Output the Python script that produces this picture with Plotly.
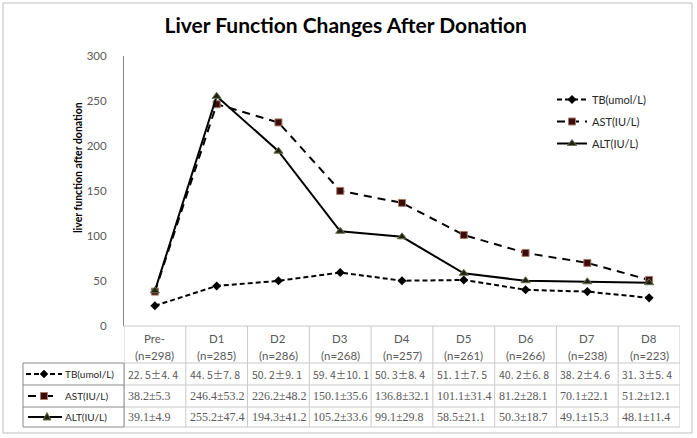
import plotly.graph_objects as go

categories = ["Pre-", "D1", "D2", "D3", "D4", "D5", "D6", "D7", "D8"]
n_labels = ["(n=298)", "(n=285)", "(n=286)", "(n=268)", "(n=257)", "(n=261)", "(n=266)", "(n=238)", "(n=223)"]
tb = [22.5, 44.5, 50.2, 59.4, 50.3, 51.1, 40.2, 38.2, 31.3]
ast = [38.2, 246.4, 226.2, 150.1, 136.8, 101.1, 81.2, 70.1, 51.2]
alt = [39.1, 255.2, 194.3, 105.2, 99.1, 58.5, 50.3, 49.1, 48.1]
tb_txt = ["22. 5±4. 4", "44. 5±7. 8", "50. 2±9. 1", "59. 4±10. 1", "50. 3±8. 4",
          "51. 1±7. 5", "40. 2±6. 8", "38. 2±4. 6", "31. 3±5. 4"]
ast_txt = ["38.2±5.3", "246.4±53.2", "226.2±48.2", "150.1±35.6", "136.8±32.1",
           "101.1±31.4", "81.2±28.1", "70.1±22.1", "51.2±12.1"]
alt_txt = ["39.1±4.9", "255.2±47.4", "194.3±41.2", "105.2±33.6", "99.1±29.8",
           "58.5±21.1", "50.3±18.7", "49.1±15.3", "48.1±11.4"]
series_names = ["TB(umol/L)", "AST(IU/L)", "ALT(IU/L)"]
y_ticks = [0, 50, 100, 150, 200, 250, 300]

W, H = 697, 438
L, R, T, B = 124, 17, 56, 112
PW, PH = W - L - R, H - T - B


def px(x):
    return (x - L) / PW


def py(y):
    return (H - B - y) / PH


xi = list(range(len(categories)))
fig = go.Figure()
fig.add_trace(go.Scatter(x=xi, y=tb, name=series_names[0], mode="lines+markers", legendgroup="tb",
                         line=dict(color="#000000", width=2, dash="5px,3px"),
                         marker=dict(symbol="diamond", size=7, color="#000000")))
fig.add_trace(go.Scatter(x=xi, y=ast, name=series_names[1], mode="lines+markers", legendgroup="ast",
                         line=dict(color="#000000", width=2, dash="8px,6px"),
                         marker=dict(symbol="square", size=7, color="#3a0c0c",
                                     line=dict(color="#a87a66", width=1))))
fig.add_trace(go.Scatter(x=xi, y=alt, name=series_names[2], mode="lines+markers", legendgroup="alt",
                         line=dict(color="#000000", width=2),
                         marker=dict(symbol="triangle-up", size=8, color="#1e2410",
                                     line=dict(color="#6d7050", width=1))))

shapes = []
grid = "#c9c9c9"
# outer border
shapes.append(dict(type="rect", xref="paper", yref="paper", x0=px(3), x1=px(692),
                   y0=py(433), y1=py(3), line=dict(color="#bdbdbd", width=1)))
# table horizontal lines
for yy in [326, 363, 385, 407, 427]:
    shapes.append(dict(type="line", xref="x", yref="paper", x0=-0.5, x1=8.5,
                       y0=py(yy), y1=py(yy), line=dict(color=grid, width=1)))
# table vertical lines
for k in range(len(categories) + 1):
    shapes.append(dict(type="line", xref="x", yref="paper", x0=k - 0.5, x1=k - 0.5,
                       y0=py(326), y1=py(427), line=dict(color=grid, width=1)))
# key column box
kc = "#8a8a8a"
shapes.append(dict(type="rect", xref="paper", yref="paper", x0=px(23), x1=px(124),
                   y0=py(427), y1=py(363), line=dict(color=kc, width=1)))
for yy in [385, 407]:
    shapes.append(dict(type="line", xref="paper", yref="paper", x0=px(23), x1=px(124),
                       y0=py(yy), y1=py(yy), line=dict(color=kc, width=1)))
# key symbols
ky = [374, 396, 417]
shapes.append(dict(type="line", xref="paper", yref="paper", x0=px(26), x1=px(62),
                   y0=py(ky[0]), y1=py(ky[0]), line=dict(color="#000", width=2, dash="5px,3px")))
shapes.append(dict(type="line", xref="paper", yref="paper", x0=px(28), x1=px(62),
                   y0=py(ky[1]), y1=py(ky[1]), line=dict(color="#000", width=2, dash="8px,9px")))
shapes.append(dict(type="line", xref="paper", yref="paper", x0=px(28), x1=px(62),
                   y0=py(ky[2]), y1=py(ky[2]), line=dict(color="#000", width=2)))


def path_pts(pts):
    return "M " + " L ".join(f"{px(a):.5f},{py(b):.5f}" for a, b in pts) + " Z"


cx, cy = 44, ky[0]
shapes.append(dict(type="path", xref="paper", yref="paper",
                   path=path_pts([(cx, cy - 4), (cx + 4, cy), (cx, cy + 4), (cx - 4, cy)]),
                   fillcolor="#000", line=dict(color="#000", width=0.5)))
cx, cy = 44, ky[1]
shapes.append(dict(type="path", xref="paper", yref="paper",
                   path=path_pts([(cx - 3.5, cy - 3.5), (cx + 3.5, cy - 3.5), (cx + 3.5, cy + 3.5), (cx - 3.5, cy + 3.5)]),
                   fillcolor="#3a0c0c", line=dict(color="#a87a66", width=1)))
cx, cy = 47, ky[2]
shapes.append(dict(type="path", xref="paper", yref="paper",
                   path=path_pts([(cx, cy - 4.5), (cx + 4, cy + 3), (cx - 4, cy + 3)]),
                   fillcolor="#1e2410", line=dict(color="#6d7050", width=1)))

ann = []
hdr_font = dict(family="Lato, Open Sans, sans-serif", size=11.5, color="#595959")
for i, c in enumerate(categories):
    ann.append(dict(x=i, y=py(338), xref="x", yref="paper", text=c, showarrow=False,
                    font=hdr_font, xanchor="center", yanchor="middle"))
    ann.append(dict(x=i, y=py(355), xref="x", yref="paper", text=n_labels[i], showarrow=False,
                    font=hdr_font, xanchor="center", yanchor="middle"))
tb_font = dict(family="Noto Sans CJK SC, sans-serif", size=10.5, color="#595959")
val_font = dict(family="Liberation Serif, serif", size=12, color="#595959")
for row, (txts, yy) in enumerate(zip([tb_txt, ast_txt, alt_txt], ky)):
    for i, t in enumerate(txts):
        ann.append(dict(x=i - 0.5, y=py(yy), xref="x", yref="paper", text=t, showarrow=False,
                        font=tb_font if row == 0 else val_font,
                        xanchor="left", yanchor="middle", xshift=2))
key_font = dict(family="Lato, Open Sans, sans-serif", size=10, color="#262626")
for name, yy in zip(series_names, ky):
    ann.append(dict(x=px(63), y=py(yy), xref="paper", yref="paper", text=name, showarrow=False,
                    font=key_font, xanchor="left", yanchor="middle"))
# y-axis title
ann.append(dict(x=px(78), y=py(168), xref="paper", yref="paper",
                text="<b>liver function after donation</b>", textangle=-90, showarrow=False,
                font=dict(family="Lato, Open Sans, sans-serif", size=10.5, color="#000"),
                xanchor="center", yanchor="middle"))

fig.update_layout(
    width=W, height=H,
    margin=dict(l=L, r=R, t=T, b=B),
    paper_bgcolor="white", plot_bgcolor="white",
    title=dict(text="<b>Liver Function Changes After Donation</b>", x=0.496, xanchor="center",
               y=1 - 26 / H, yanchor="middle",
               font=dict(family="Lato, Open Sans, sans-serif", size=21, color="#000000")),
    xaxis=dict(range=[-0.5, 8.5], showticklabels=False, showgrid=False, zeroline=False,
               showline=False, ticks="", fixedrange=True),
    yaxis=dict(range=[0, 300], tickvals=y_ticks, showgrid=False, zeroline=False,
               showline=True, linecolor="#868686", linewidth=1, ticks="",
               ticklabelstandoff=14,
               tickfont=dict(family="Lato, Open Sans, sans-serif", size=11.5, color="#595959")),
    legend=dict(x=px(552), y=py(85), xanchor="left", yanchor="top",
                bgcolor="rgba(0,0,0,0)", font=dict(family="Lato, Open Sans, sans-serif", size=11, color="#262626"),
                itemwidth=30, tracegroupgap=3),
    shapes=shapes, annotations=ann,
    showlegend=True,
)
fig.write_html("out.html", config={"displayModeBar": False},
               post_script="document.body.style.margin='0';")
